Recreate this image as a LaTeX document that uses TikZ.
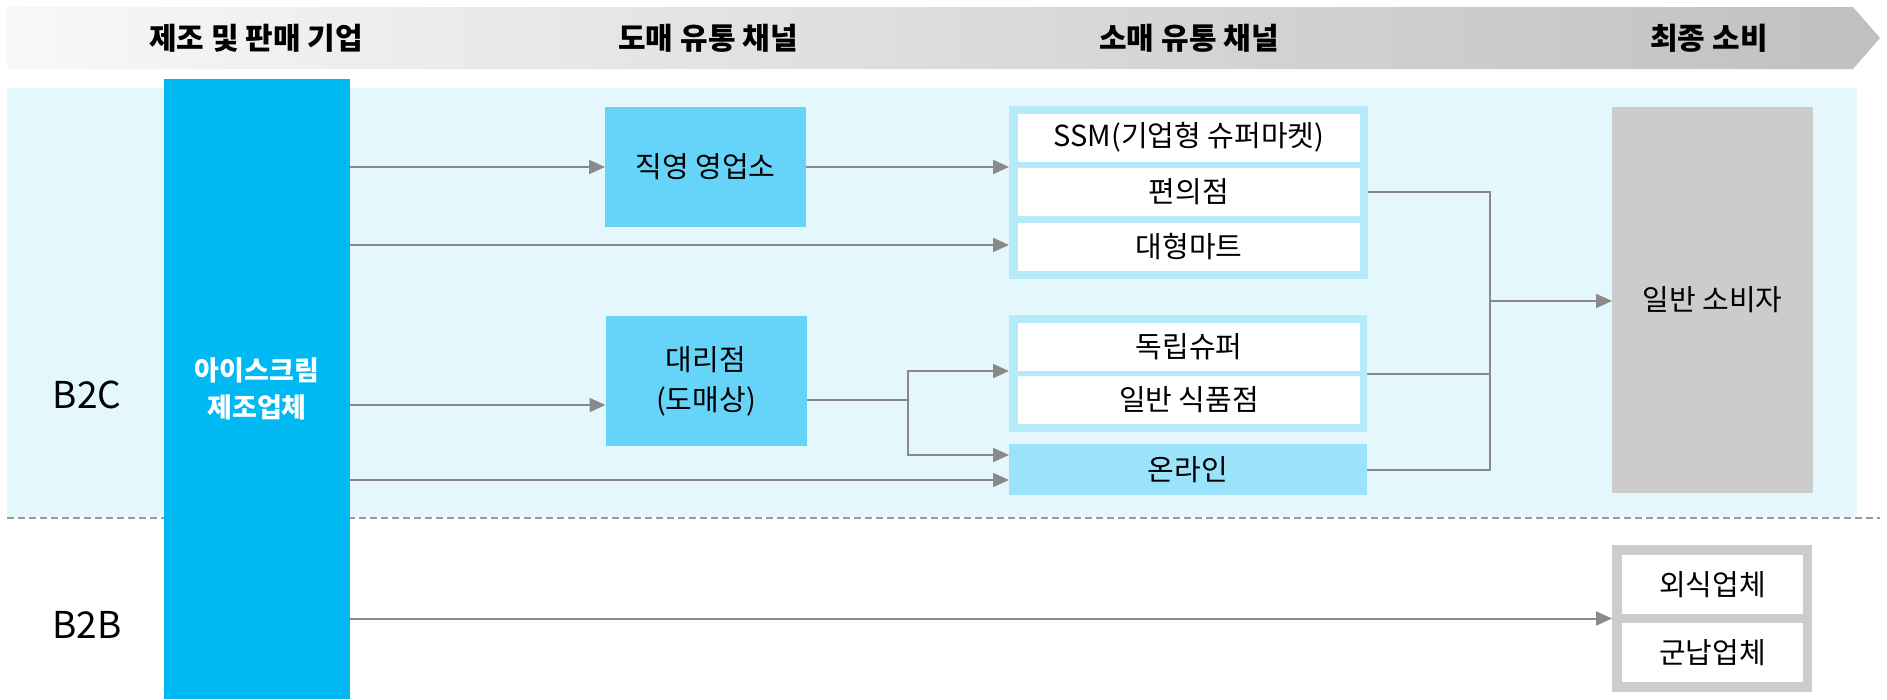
\documentclass[tikz,border=0pt]{standalone}
\usepackage{fontspec}
\setmainfont{Noto Sans CJK KR}
\usetikzlibrary{arrows.meta,calc}
\definecolor{mfrblue}{HTML}{00B8F2}
\definecolor{nodeblue}{HTML}{66D4F8}
\definecolor{framebl}{HTML}{B5EAF9}
\definecolor{onlinebl}{HTML}{9BE3FA}
\definecolor{bgblue}{HTML}{E3F7FD}
\definecolor{consgray}{HTML}{CCCCCC}
\definecolor{linegray}{HTML}{8A8A8A}
\definecolor{dashgray}{HTML}{9A9A9A}
\definecolor{bannerL}{HTML}{F8F8F8}
\definecolor{bannerR}{HTML}{C0C0C0}
\tikzset{
  box/.style={rectangle, inner sep=0pt, outer sep=0pt, align=center, text=black,
    font=\fontsize{29}{40}\selectfont},
  whitebox/.style={box, fill=white, minimum width=342pt, minimum height=48pt},
  conn/.style={draw=linegray, line width=2pt},
  arr/.style={conn, -{Triangle[length=16pt,width=14pt]}},
  head/.style={font=\fontsize{30}{36}\selectfont\bfseries, text=black, inner sep=0pt},
  side/.style={font=\fontsize{37}{42}\selectfont, text=black, inner sep=0pt}
}
\begin{document}
\begin{tikzpicture}[x=1pt,y=-1pt]
\useasboundingbox (0,0) rectangle (1887,699);
% banner
\shade[left color=bannerL, right color=bannerR] (7,7) -- (1853,7) -- (1880,38) -- (1853,69) -- (7,69) -- cycle;
% B2C background
\fill[bgblue] (7,88) rectangle (1857,517);
\draw[dashgray, line width=1.5pt, dash pattern=on 7pt off 4pt] (7,518) -- (1880,518);
% manufacturer
\node[box, fill=mfrblue, minimum width=186pt, minimum height=620pt, text=white,
  font=\fontsize{27}{37}\selectfont\bfseries] (mfr) at (257,389) {아이스크림\\제조업체};
% wholesale
\node[box, fill=nodeblue, minimum width=201pt, minimum height=120pt] (direct) at (705.5,167) {직영 영업소};
\node[box, fill=nodeblue, minimum width=201pt, minimum height=130pt] (agent) at (706,381) {대리점\\(도매상)};
% retail group 1
\node[box, fill=framebl, minimum width=359pt, minimum height=173pt] (frame1) at (1188.5,192.5) {};
\node[whitebox] (ssm) at (1189,137.5) {SSM(기업형 슈퍼마켓)};
\node[whitebox] (cvs) at (1189,192) {편의점};
\node[whitebox] (mart) at (1189,247) {대형마트};
% retail group 2
\node[box, fill=framebl, minimum width=358pt, minimum height=117pt] (frame2) at (1188,373.5) {};
\node[whitebox] (indep) at (1189,347) {독립슈퍼};
\node[whitebox] (grocery) at (1189,400) {일반 식품점};
\node[box, fill=onlinebl, minimum width=358pt, minimum height=51pt] (online) at (1188,469.5) {온라인};
% consumers
\node[box, fill=consgray, minimum width=201pt, minimum height=386pt] (consumer) at (1712.5,300) {일반 소비자};
\node[box, fill=consgray, minimum width=200pt, minimum height=147pt] (frame3) at (1712,618.5) {};
\node[box, fill=white, minimum width=181pt, minimum height=59pt] (eat) at (1712.5,584.5) {외식업체};
\node[box, fill=white, minimum width=181pt, minimum height=59pt] (mil) at (1712.5,652.5) {군납업체};
% labels
\node[side] (b2c) at (87,395) {B2C};
\node[side] (b2b) at (87,625) {B2B};
\node[head] (h1) at (256,38) {제조 및 판매 기업};
\node[head] (h2) at (708,38) {도매 유통 채널};
\node[head] (h3) at (1189,38) {소매 유통 채널};
\node[head] (h4) at (1709,38) {최종 소비};
% connectors
\draw[arr] (mfr.east |- direct.west) -- (direct.west);
\draw[arr] (direct.east) -- (direct.east -| frame1.west);
\draw[arr] (mfr.east |- 0,245) -- (frame1.west |- 0,245);
\draw[arr] (mfr.east |- 0,405) -- (agent.west |- 0,405);
\draw[arr] (mfr.east |- 0,480) -- (online.west |- 0,480);
\draw[arr] (mfr.east |- frame3.west) -- (frame3.west);
\coordinate (bx) at (908,400);
\draw[conn] (agent.east |- bx) -- (bx);
\draw[arr] (bx) |- (frame2.west |- 0,371);
\draw[arr] (bx) |- (online.west |- 0,455);
\coordinate (jx) at (1490,301);
\draw[conn] (frame1.east |- cvs) -| (jx);
\draw[conn] (frame2.east) -| (jx);
\draw[conn] (online.east) -| (jx);
\draw[arr] (jx) -- (jx -| consumer.west);
\end{tikzpicture}
\end{document}
